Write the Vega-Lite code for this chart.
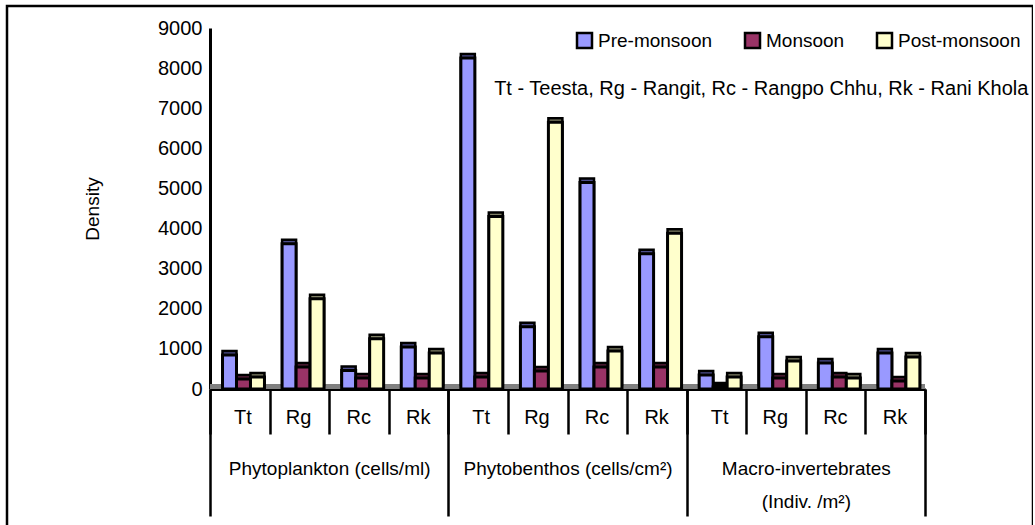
{
  "$schema": "https://vega.github.io/schema/vega-lite/v6.json",
  "width": 1026,
  "height": 525,
  "autosize": {"type": "none"},
  "padding": {"left": 7, "top": 6, "right": 0, "bottom": 0},
  "background": "white",
  "config": {
    "view": {"stroke": "black", "strokeWidth": 2.5},
    "font": "Liberation Sans",
    "axis": {"labelColor": "black", "titleColor": "black", "labelFont": "Liberation Sans", "titleFont": "Liberation Sans"}
  },
  "data": {
    "values": [
      {"group": "Phytoplankton (cells/ml)", "key": "Phytoplankton|Tt", "season": "Pre-monsoon", "density": 850},
      {"group": "Phytoplankton (cells/ml)", "key": "Phytoplankton|Tt", "season": "Monsoon", "density": 250},
      {"group": "Phytoplankton (cells/ml)", "key": "Phytoplankton|Tt", "season": "Post-monsoon", "density": 300},
      {"group": "Phytoplankton (cells/ml)", "key": "Phytoplankton|Rg", "season": "Pre-monsoon", "density": 3620},
      {"group": "Phytoplankton (cells/ml)", "key": "Phytoplankton|Rg", "season": "Monsoon", "density": 550},
      {"group": "Phytoplankton (cells/ml)", "key": "Phytoplankton|Rg", "season": "Post-monsoon", "density": 2250},
      {"group": "Phytoplankton (cells/ml)", "key": "Phytoplankton|Rc", "season": "Pre-monsoon", "density": 460},
      {"group": "Phytoplankton (cells/ml)", "key": "Phytoplankton|Rc", "season": "Monsoon", "density": 275},
      {"group": "Phytoplankton (cells/ml)", "key": "Phytoplankton|Rc", "season": "Post-monsoon", "density": 1250},
      {"group": "Phytoplankton (cells/ml)", "key": "Phytoplankton|Rk", "season": "Pre-monsoon", "density": 1050},
      {"group": "Phytoplankton (cells/ml)", "key": "Phytoplankton|Rk", "season": "Monsoon", "density": 275},
      {"group": "Phytoplankton (cells/ml)", "key": "Phytoplankton|Rk", "season": "Post-monsoon", "density": 900},
      {"group": "Phytobenthos (cells/cm²)", "key": "Phytobenthos|Tt", "season": "Pre-monsoon", "density": 8250},
      {"group": "Phytobenthos (cells/cm²)", "key": "Phytobenthos|Tt", "season": "Monsoon", "density": 300},
      {"group": "Phytobenthos (cells/cm²)", "key": "Phytobenthos|Tt", "season": "Post-monsoon", "density": 4300},
      {"group": "Phytobenthos (cells/cm²)", "key": "Phytobenthos|Rg", "season": "Pre-monsoon", "density": 1550},
      {"group": "Phytobenthos (cells/cm²)", "key": "Phytobenthos|Rg", "season": "Monsoon", "density": 450},
      {"group": "Phytobenthos (cells/cm²)", "key": "Phytobenthos|Rg", "season": "Post-monsoon", "density": 6650},
      {"group": "Phytobenthos (cells/cm²)", "key": "Phytobenthos|Rc", "season": "Pre-monsoon", "density": 5150},
      {"group": "Phytobenthos (cells/cm²)", "key": "Phytobenthos|Rc", "season": "Monsoon", "density": 550},
      {"group": "Phytobenthos (cells/cm²)", "key": "Phytobenthos|Rc", "season": "Post-monsoon", "density": 950},
      {"group": "Phytobenthos (cells/cm²)", "key": "Phytobenthos|Rk", "season": "Pre-monsoon", "density": 3375},
      {"group": "Phytobenthos (cells/cm²)", "key": "Phytobenthos|Rk", "season": "Monsoon", "density": 550},
      {"group": "Phytobenthos (cells/cm²)", "key": "Phytobenthos|Rk", "season": "Post-monsoon", "density": 3880},
      {"group": "Macro-invertebrates|(Indiv. /m²)", "key": "Macro|Tt", "season": "Pre-monsoon", "density": 350},
      {"group": "Macro-invertebrates|(Indiv. /m²)", "key": "Macro|Tt", "season": "Monsoon", "density": 50},
      {"group": "Macro-invertebrates|(Indiv. /m²)", "key": "Macro|Tt", "season": "Post-monsoon", "density": 300},
      {"group": "Macro-invertebrates|(Indiv. /m²)", "key": "Macro|Rg", "season": "Pre-monsoon", "density": 1300},
      {"group": "Macro-invertebrates|(Indiv. /m²)", "key": "Macro|Rg", "season": "Monsoon", "density": 275},
      {"group": "Macro-invertebrates|(Indiv. /m²)", "key": "Macro|Rg", "season": "Post-monsoon", "density": 700},
      {"group": "Macro-invertebrates|(Indiv. /m²)", "key": "Macro|Rc", "season": "Pre-monsoon", "density": 650},
      {"group": "Macro-invertebrates|(Indiv. /m²)", "key": "Macro|Rc", "season": "Monsoon", "density": 300},
      {"group": "Macro-invertebrates|(Indiv. /m²)", "key": "Macro|Rc", "season": "Post-monsoon", "density": 275},
      {"group": "Macro-invertebrates|(Indiv. /m²)", "key": "Macro|Rk", "season": "Pre-monsoon", "density": 900},
      {"group": "Macro-invertebrates|(Indiv. /m²)", "key": "Macro|Rk", "season": "Monsoon", "density": 200},
      {"group": "Macro-invertebrates|(Indiv. /m²)", "key": "Macro|Rk", "season": "Post-monsoon", "density": 800}
    ]
  },
  "layer": [
    {
      "mark": {"type": "bar", "fill": "#808080"},
      "encoding": {
        "x": {
          "field": "group", "type": "nominal", "sort": null,
          "scale": {"range": [203, 918], "paddingInner": 0, "paddingOuter": 0},
          "axis": {
            "title": null, "orient": "bottom", "offset": -142,
            "tickBand": "extent", "tickSize": 127, "tickWidth": 2.5, "tickColor": "black",
            "domain": false,
            "labelExpr": "isValid(datum.value) ? split(datum.value, '|') : ''",
            "labelAngle": 0, "labelFontSize": 19, "labelBaseline": "top",
            "labelPadding": -57, "labelLineHeight": 33, "labelLimit": 0, "labelOverlap": false
          }
        },
        "y": {"datum": 0, "type": "quantitative", "scale": {"domain": [0, 9000], "range": [383, 22], "nice": false}},
        "y2": {"datum": 120}
      }
    },
    {
      "layer": [
        {
          "mark": {"type": "bar", "xOffset": 4, "yOffset": -4, "stroke": "black", "strokeWidth": 2.5},
          "encoding": {
            "x": {"field": "key", "type": "nominal", "sort": null},
            "xOffset": {"field": "season", "type": "nominal", "sort": ["Pre-monsoon", "Monsoon", "Post-monsoon"]},
            "y": {"field": "density", "type": "quantitative"},
            "fill": {
              "condition": [
                {"test": "datum.season === 'Pre-monsoon'", "value": "#4d4d8c"},
                {"test": "datum.season === 'Monsoon'", "value": "#5c1f3d"}
              ],
              "value": "#808066"
            }
          }
        },
        {
          "mark": {"type": "bar", "stroke": "black", "strokeWidth": 3},
          "encoding": {
            "x": {
              "field": "key", "type": "nominal", "sort": null,
              "scale": {"range": [203, 918], "paddingInner": 0, "paddingOuter": 0},
              "axis": {
                "title": null, "orient": "bottom", "offset": -142,
                "tickBand": "extent", "tickSize": 45, "tickWidth": 2.5, "tickColor": "black",
                "domainColor": "black", "domainWidth": 3,
                "labelExpr": "isValid(datum.value) ? split(datum.value, '|')[1] : ''",
                "labelAngle": 0, "labelFontSize": 20, "labelBaseline": "middle",
                "labelPadding": -17, "labelOffset": 11.5, "labelOverlap": false
              }
            },
            "xOffset": {
              "field": "season", "type": "nominal", "sort": ["Pre-monsoon", "Monsoon", "Post-monsoon"],
              "scale": {"paddingInner": 0, "paddingOuter": 0.63, "align": 0.71}
            },
            "y": {
              "field": "density", "type": "quantitative",
              "scale": {"domain": [0, 9000], "range": [383, 22], "nice": false},
              "axis": {
                "title": "Density", "orient": "left", "offset": -203,
                "values": [0, 1000, 2000, 3000, 4000, 5000, 6000, 7000, 8000, 9000],
                "format": "d",
                "ticks": false, "grid": false,
                "domainColor": "black", "domainWidth": 3,
                "labelFontSize": 20, "labelPadding": 8,
                "titleFontSize": 19, "titleFontWeight": "normal", "titlePadding": 55
              }
            },
            "fill": {
              "field": "season", "type": "nominal",
              "scale": {"domain": ["Pre-monsoon", "Monsoon", "Post-monsoon"], "range": ["#9999ff", "#993366", "#ffffcc"]},
              "legend": {
                "title": null, "orient": "none", "legendX": 568, "legendY": 25,
                "direction": "horizontal", "symbolType": "square", "symbolSize": 225,
                "symbolStrokeColor": "black", "symbolStrokeWidth": 2.5,
                "labelFontSize": 19, "labelOffset": 4, "columnPadding": 27, "padding": 0,
                "labelColor": "black", "labelLimit": 0
              }
            }
          }
        },
        {
          "data": {"values": [{"note": "Tt - Teesta, Rg - Rangit, Rc - Rangpo Chhu, Rk -  Rani Khola", "pos": "Phytobenthos|Tt", "v": 7480}]},
          "mark": {"type": "text", "align": "left", "baseline": "middle", "fontSize": 20, "dx": 16, "color": "black"},
          "encoding": {
            "x": {"field": "pos", "type": "nominal", "sort": null},
            "y": {"field": "v", "type": "quantitative"},
            "text": {"field": "note"}
          }
        }
      ]
    }
  ],
  "resolve": {"scale": {"x": "independent"}, "axis": {"x": "independent"}}
}
